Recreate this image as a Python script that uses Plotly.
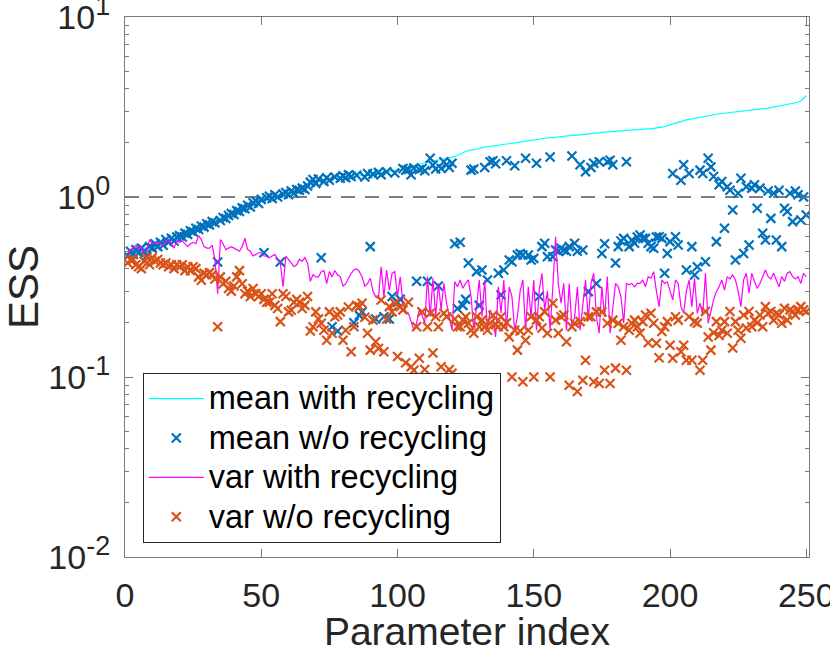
import plotly.graph_objects as go

param_index = list(range(1, 251))

mean_with_recycling = [
    0.49,0.49,0.50,0.50,0.51,0.51,0.52,0.52,0.53,0.53,
    0.54,0.54,0.55,0.56,0.56,0.57,0.58,0.58,0.59,0.60,
    0.61,0.62,0.63,0.64,0.65,0.66,0.67,0.68,0.69,0.70,
    0.71,0.72,0.73,0.74,0.75,0.76,0.78,0.79,0.80,0.82,
    0.83,0.85,0.86,0.88,0.89,0.91,0.92,0.94,0.95,0.96,
    0.97,0.98,0.99,1.00,1.01,1.02,1.03,1.04,1.05,1.06,
    1.07,1.08,1.09,1.10,1.11,1.12,1.14,1.17,1.20,1.22,
    1.23,1.24,1.25,1.25,1.26,1.26,1.27,1.27,1.28,1.28,
    1.29,1.29,1.30,1.30,1.31,1.31,1.32,1.32,1.33,1.34,
    1.34,1.35,1.35,1.36,1.37,1.37,1.38,1.39,1.40,1.41,
    1.42,1.43,1.44,1.45,1.47,1.49,1.51,1.53,1.54,1.55,
    1.56,1.57,1.58,1.59,1.60,1.61,1.62,1.63,1.64,1.66,
    1.68,1.71,1.74,1.77,1.79,1.81,1.82,1.84,1.85,1.86,
    1.88,1.89,1.90,1.91,1.93,1.94,1.95,1.96,1.97,1.98,
    1.99,2.00,2.01,2.02,2.03,2.04,2.05,2.06,2.07,2.08,
    2.09,2.10,2.11,2.12,2.13,2.14,2.14,2.15,2.16,2.17,
    2.17,2.18,2.19,2.20,2.20,2.21,2.22,2.23,2.24,2.25,
    2.26,2.26,2.27,2.28,2.28,2.29,2.30,2.30,2.31,2.31,
    2.32,2.33,2.33,2.34,2.35,2.35,2.36,2.36,2.37,2.38,
    2.38,2.39,2.39,2.40,2.41,2.42,2.44,2.46,2.49,2.52,
    2.55,2.58,2.61,2.64,2.66,2.68,2.70,2.72,2.74,2.76,
    2.78,2.80,2.82,2.84,2.86,2.88,2.89,2.90,2.91,2.92,
    2.93,2.94,2.95,2.96,2.97,2.98,2.99,3.00,3.01,3.02,
    3.03,3.04,3.06,3.08,3.10,3.12,3.14,3.16,3.18,3.20,
    3.22,3.24,3.26,3.28,3.30,3.33,3.36,3.42,3.52,3.65,
]

mean_without_recycling = [
    0.47,0.50,0.48,0.51,0.49,0.52,0.50,0.47,0.53,0.52,
    0.55,0.53,0.56,0.54,0.58,0.56,0.59,0.57,0.60,0.61,
    0.60,0.63,0.62,0.65,0.64,0.67,0.66,0.69,0.68,0.71,
    0.70,0.73,0.72,0.435,0.74,0.77,0.76,0.79,0.81,0.80,
    0.84,0.83,0.87,0.86,0.90,0.88,0.93,0.95,0.92,0.97,
    0.49,0.99,1.01,0.98,1.03,1.00,0.435,1.04,1.06,1.03,
    1.08,1.05,1.10,1.09,1.12,1.10,1.15,1.21,1.25,1.19,
    1.26,0.46,1.22,1.28,1.24,0.19,1.29,0.18,1.27,1.31,
    1.28,1.33,1.30,0.20,1.32,0.22,0.23,1.29,1.35,0.53,
    1.34,0.21,1.37,1.33,0.216,1.38,0.21,0.28,1.36,0.26,
    0.27,1.44,1.41,1.42,1.33,1.45,0.34,1.42,1.44,1.40,
    0.34,1.64,1.50,1.43,0.32,1.44,1.57,1.51,1.46,1.54,
    0.55,0.24,0.56,0.25,0.27,0.43,1.41,1.43,0.385,0.25,
    0.393,1.46,0.346,1.57,1.59,1.53,0.377,0.286,0.393,1.59,
    0.447,0.437,1.49,0.476,0.486,0.476,1.64,0.476,0.447,0.456,
    1.54,0.28,0.53,0.553,0.466,1.67,0.466,0.508,0.50,0.519,
    0.508,0.50,0.53,1.69,0.553,0.50,1.51,0.508,1.38,0.298,
    1.46,1.54,0.331,1.57,0.486,0.55,1.57,1.60,1.51,0.43,
    0.53,0.57,0.589,1.57,0.53,0.577,0.553,0.60,0.615,0.589,
    0.589,0.553,0.53,0.519,0.60,0.602,0.589,0.377,0.486,0.565,
    1.35,0.602,0.541,1.24,1.51,0.393,1.35,0.53,0.369,0.41,
    1.41,1.35,0.437,1.64,1.47,1.30,0.565,1.17,1.22,0.67,
    1.14,1.09,0.847,0.447,1.05,1.27,0.486,1.14,0.541,1.12,
    1.17,0.865,1.12,0.629,0.577,1.08,0.761,1.05,0.577,1.09,
    0.53,0.865,0.83,1.05,0.73,1.08,1.03,0.745,1.00,0.794,
]

var_with_recycling = [
    0.48,0.51,0.52,0.54,0.51,0.53,0.49,0.50,0.58,0.55,
    0.55,0.56,0.55,0.54,0.57,0.58,0.55,0.52,0.57,0.56,
    0.57,0.55,0.53,0.55,0.56,0.55,0.61,0.58,0.53,0.52,
    0.52,0.54,0.45,0.29,0.58,0.55,0.51,0.52,0.53,0.52,
    0.51,0.50,0.53,0.59,0.51,0.50,0.47,0.48,0.49,0.49,
    0.47,0.47,0.46,0.47,0.48,0.45,0.43,0.317,0.47,0.45,
    0.43,0.41,0.42,0.45,0.44,0.46,0.43,0.34,0.37,0.36,
    0.36,0.385,0.39,0.33,0.385,0.36,0.39,0.37,0.36,0.32,
    0.33,0.354,0.377,0.393,0.40,0.385,0.36,0.32,0.33,0.354,
    0.30,0.279,0.273,0.41,0.279,0.393,0.304,0.377,0.385,0.28,
    0.36,0.257,0.231,0.226,0.20,0.182,0.199,0.236,0.221,0.199,
    0.361,0.216,0.354,0.216,0.331,0.236,0.331,0.257,0.216,0.182,
    0.338,0.317,0.346,0.311,0.331,0.346,0.279,0.182,0.246,0.346,
    0.216,0.346,0.182,0.236,0.216,0.167,0.317,0.226,0.346,0.182,
    0.317,0.279,0.182,0.216,0.30,0.346,0.182,0.317,0.216,0.346,
    0.182,0.304,0.377,0.236,0.30,0.182,0.317,0.602,0.331,0.257,
    0.331,0.182,0.331,0.19,0.216,0.317,0.182,0.257,0.346,0.207,
    0.331,0.377,0.216,0.175,0.317,0.216,0.361,0.175,0.246,0.331,
    0.317,0.279,0.199,0.331,0.325,0.331,0.317,0.331,0.331,0.346,
    0.317,0.361,0.354,0.385,0.30,0.246,0.346,0.331,0.338,0.30,
    0.268,0.346,0.331,0.246,0.226,0.30,0.346,0.246,0.354,0.226,
    0.257,0.221,0.377,0.199,0.236,0.268,0.298,0.317,0.346,0.304,
    0.361,0.35,0.369,0.346,0.30,0.246,0.346,0.377,0.292,0.377,
    0.34,0.31,0.331,0.361,0.393,0.361,0.35,0.377,0.346,0.317,
    0.361,0.34,0.377,0.385,0.361,0.35,0.361,0.331,0.377,0.36,
]

var_without_recycling = [
    0.43,0.447,0.45,0.42,0.41,0.40,0.44,0.46,0.42,0.46,
    0.44,0.45,0.43,0.42,0.43,0.41,0.42,0.40,0.42,0.41,
    0.42,0.39,0.41,0.39,0.41,0.40,0.36,0.345,0.377,0.37,
    0.38,0.37,0.35,0.19,0.36,0.33,0.34,0.31,0.30,0.32,
    0.36,0.39,0.33,0.29,0.30,0.28,0.31,0.29,0.28,0.29,
    0.27,0.26,0.26,0.29,0.25,0.24,0.203,0.29,0.28,0.23,
    0.235,0.26,0.27,0.26,0.24,0.25,0.28,0.18,0.19,0.23,
    0.21,0.199,0.182,0.16,0.23,0.175,0.216,0.221,0.23,0.16,
    0.182,0.245,0.138,0.19,0.25,0.246,0.257,0.215,0.175,0.141,
    0.207,0.157,0.144,0.268,0.138,0.21,0.246,0.23,0.257,0.13,
    0.246,0.236,0.12,0.26,0.114,0.109,0.19,0.127,0.23,0.11,
    0.19,0.226,0.136,0.216,0.19,0.114,0.226,0.216,0.11,0.105,
    0.21,0.19,0.19,0.207,0.216,0.199,0.182,0.175,0.216,0.19,
    0.207,0.19,0.182,0.199,0.22,0.195,0.19,0.216,0.19,0.20,
    0.167,0.10,0.182,0.141,0.18,0.094,0.16,0.182,0.216,0.10,
    0.207,0.216,0.187,0.23,0.175,0.10,0.257,0.207,0.175,0.216,
    0.221,0.157,0.09,0.19,0.199,0.083,0.203,0.096,0.124,0.216,
    0.216,0.094,0.23,0.092,0.23,0.109,0.199,0.092,0.207,0.112,
    0.199,0.16,0.19,0.109,0.182,0.199,0.207,0.19,0.175,0.203,
    0.221,0.155,0.226,0.199,0.154,0.128,0.179,0.19,0.203,0.15,
    0.127,0.216,0.207,0.138,0.15,0.124,0.216,0.124,0.203,0.199,
    0.109,0.124,0.231,0.167,0.141,0.176,0.203,0.17,0.182,0.203,
    0.175,0.231,0.145,0.203,0.182,0.164,0.221,0.187,0.231,0.19,
    0.207,0.20,0.221,0.19,0.246,0.226,0.231,0.207,0.226,0.221,
    0.199,0.241,0.207,0.236,0.231,0.221,0.236,0.246,0.236,0.231,
]

series_names = ["mean with recycling", "mean w/o recycling",
                "var with recycling", "var w/o recycling"]

y_tick_vals = [0.01, 0.1, 1, 10]
y_tick_exps = ["-2", "-1", "0", "1"]
y_minor_vals = [m * d for d in (0.01, 0.1, 1) for m in range(2, 10)]
x_tick_vals = [0, 50, 100, 150, 200, 250]
reference_level = 1

FONT = "Liberation Sans, Arial, sans-serif"
AXIS_GREY = "#7a7a7a"
TEXT_DARK = "#262626"

y_tick_text = ["10<sup><span style='font-size:27px'>%s</span></sup>" % e for e in y_tick_exps]


def legend_label(s):
    return "<span style='font-size:32.5px'>%s</span>" % s


fig = go.Figure()
fig.add_trace(go.Scatter(
    x=param_index, y=mean_with_recycling, mode="lines",
    name=legend_label(series_names[0]), line=dict(color="#00ffff", width=1.2)))
fig.add_trace(go.Scatter(
    x=param_index, y=mean_without_recycling, mode="markers",
    name=legend_label(series_names[1]),
    marker=dict(symbol="x-thin", size=9, color="#0072bd",
                line=dict(color="#0072bd", width=2.2))))
fig.add_trace(go.Scatter(
    x=param_index, y=var_with_recycling, mode="lines",
    name=legend_label(series_names[2]), line=dict(color="#ff00ff", width=1.2)))
fig.add_trace(go.Scatter(
    x=param_index, y=var_without_recycling, mode="markers",
    name=legend_label(series_names[3]),
    marker=dict(symbol="x-thin", size=9, color="#d95319",
                line=dict(color="#d95319", width=2.2))))

fig.add_shape(type="line", xref="paper", x0=0, x1=1, yref="y",
              y0=reference_level, y1=reference_level,
              line=dict(color="black", width=1.2, dash="14px,10px"), layer="below")

fig.update_layout(
    width=830, height=653,
    margin=dict(l=125, r=21, t=17, b=96, autoexpand=False),
    paper_bgcolor="white", plot_bgcolor="white",
    font=dict(family=FONT, color=TEXT_DARK),
    showlegend=True,
    legend=dict(x=0.026, y=0.341, xanchor="left", yanchor="top",
                bgcolor="white", bordercolor="#262626", borderwidth=1,
                font=dict(size=28, color="black", family=FONT),
                itemwidth=55, tracegroupgap=0),
    xaxis=dict(range=[0, 251], tickvals=x_tick_vals, ticks="inside", ticklen=8,
               tickcolor=AXIS_GREY, showline=True, linecolor=AXIS_GREY, linewidth=1,
               mirror="ticks", showgrid=False, zeroline=False, automargin=False,
               ticklabeloverflow="allow", ticklabelstandoff=8,
               tickfont=dict(size=34, color=TEXT_DARK),
               title=dict(text="Parameter index", font=dict(size=39, color=TEXT_DARK), standoff=20)),
    yaxis=dict(type="log", range=[-2, 1], tickvals=y_tick_vals, ticktext=y_tick_text,
               ticks="inside", ticklen=8, tickcolor=AXIS_GREY,
               showline=True, linecolor=AXIS_GREY, linewidth=1, mirror="ticks",
               showgrid=False, zeroline=False, automargin=True,
               ticklabeloverflow="allow", ticklabelstandoff=7,
               minor=dict(tickmode="array", tickvals=y_minor_vals, ticks="inside",
                          ticklen=4, tickcolor=AXIS_GREY, showgrid=False),
               tickfont=dict(size=34, color=TEXT_DARK),
               title=dict(text="ESS", font=dict(size=42, color=TEXT_DARK), standoff=14)),
)

fig.write_html("out.html", config={"displayModeBar": False},
               post_script="document.body.style.margin='0px';document.body.style.padding='0px';")
